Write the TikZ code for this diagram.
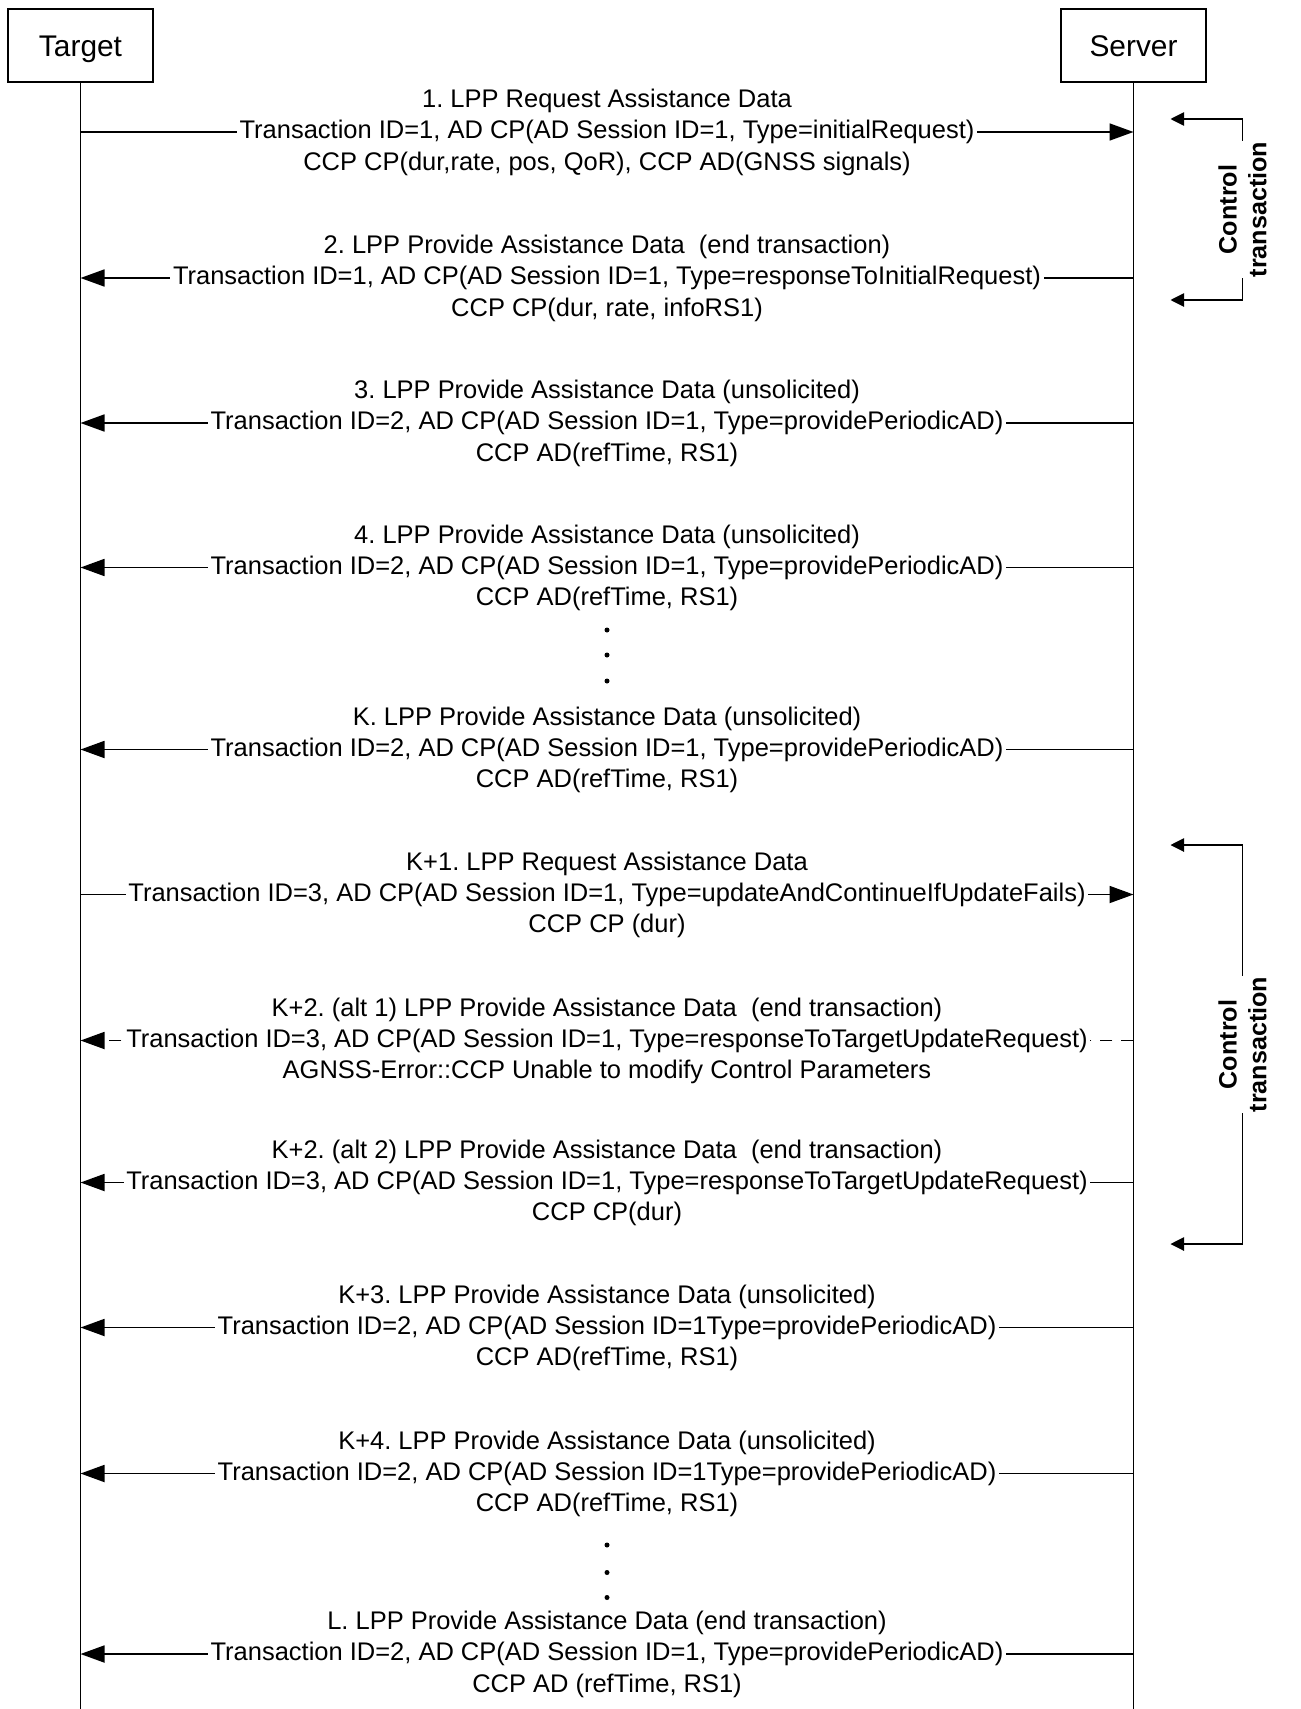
\documentclass[tikz,border=0pt]{standalone}
\usepackage{fontspec}
\setmainfont{Liberation Sans}
\frenchspacing
\usetikzlibrary{arrows.meta,positioning,calc}

\tikzset{
  actor/.style={draw, line width=0.9pt, minimum width=2.9cm, minimum height=1.46cm,
                text height=15.5pt, text depth=3.5pt, font=\fontsize{17}{20}\selectfont},
  life/.style={line width=1pt},
  msg/.style={line width=1pt, -{Triangle[length=0.48cm,width=0.34cm]}},
  mid/.style={fill=white, inner xsep=1.5pt, inner ysep=0pt, font=\fontsize{14.5}{17}\selectfont},
  upper/.style={anchor=base, yshift=0.62cm, inner sep=0pt, font=\fontsize{14.5}{17}\selectfont},
  lower/.style={anchor=base, yshift=-0.63cm, inner sep=0pt, font=\fontsize{14.5}{17}\selectfont},
  brk/.style={line width=0.6pt, {Triangle[length=0.27cm,width=0.27cm]}-{Triangle[length=0.27cm,width=0.27cm]}},
  ctl/.style={fill=white, rotate=90, align=center, inner sep=0.5pt,
              font=\fontsize{14.3}{17}\selectfont\bfseries},
}

\begin{document}
\begin{tikzpicture}
  \useasboundingbox (0,0) rectangle (26,-34.18);

  % lifelines
  \node[actor] (target) at (1.61,-0.91) {Target};
  \node[actor] (server) at (22.67,-0.91) {Server};
  \coordinate (bottom) at (0,-34.18);
  \coordinate (tEnd) at (target.south |- bottom);
  \coordinate (sEnd) at (server.south |- bottom);
  \draw[life] (target) -- (tEnd);
  \draw[life] (server) -- (sEnd);

  % message rows
  \foreach \n/\y in {1/2.64, 2/5.56, 3/8.46, 4/11.35, k/14.99, ka/17.89,
                     kb/20.81, kc/23.65, kd/26.55, ke/29.47, l/33.08} {
    \coordinate (t\n) at (1.61,-\y);
    \coordinate (s\n) at (22.67,-\y);
  }

  % 1
  \draw[msg] (t1) -- node[mid] (m1) {Transaction ID=1, AD CP(AD Session ID=1, Type=initialRequest)} (s1);
  \node[upper] at (m1.base) {1. LPP Request Assistance Data};
  \node[lower] at (m1.base) {CCP CP(dur,rate, pos, QoR), CCP AD(GNSS signals)};

  % 2
  \draw[msg] (s2) -- node[mid] (m2) {Transaction ID=1, AD CP(AD Session ID=1, Type=responseToInitialRequest)} (t2);
  \node[upper] at (m2.base) {2. LPP Provide Assistance Data\ \ (end transaction)};
  \node[lower] at (m2.base) {CCP CP(dur, rate, infoRS1)};

  % 3
  \draw[msg] (s3) -- node[mid] (m3) {Transaction ID=2, AD CP(AD Session ID=1, Type=providePeriodicAD)} (t3);
  \node[upper] at (m3.base) {3. LPP Provide Assistance Data (unsolicited)};
  \node[lower] at (m3.base) {CCP AD(refTime, RS1)};

  % 4
  \draw[msg] (s4) -- node[mid] (m4) {Transaction ID=2, AD CP(AD Session ID=1, Type=providePeriodicAD)} (t4);
  \node[upper] at (m4.base) {4. LPP Provide Assistance Data (unsolicited)};
  \node[lower] at (m4.base) {CCP AD(refTime, RS1)};

  \foreach \y in {12.60, 13.10, 13.62, 30.90, 31.45, 31.95}
    \fill (12.14,-\y) circle (0.05);

  % K
  \draw[msg] (sk) -- node[mid] (mk) {Transaction ID=2, AD CP(AD Session ID=1, Type=providePeriodicAD)} (tk);
  \node[upper] at (mk.base) {K. LPP Provide Assistance Data (unsolicited)};
  \node[lower] at (mk.base) {CCP AD(refTime, RS1)};

  % K+1
  \draw[msg] (tka) -- node[mid] (mka) {Transaction ID=3, AD CP(AD Session ID=1, Type=updateAndContinueIfUpdateFails)} (ska);
  \node[upper] at (mka.base) {K+1. LPP Request Assistance Data};
  \node[lower] at (mka.base) {CCP CP (dur)};

  % K+2 alt 1
  \draw[msg, dash pattern=on 7pt off 5pt] (skb) -- node[mid] (mkb) {Transaction ID=3, AD CP(AD Session ID=1, Type=responseToTargetUpdateRequest)} (tkb);
  \node[upper] at (mkb.base) {K+2. (alt 1) LPP Provide Assistance Data\ \ (end transaction)};
  \node[lower] at (mkb.base) {AGNSS-Error::CCP Unable to modify Control Parameters};

  % K+2 alt 2
  \draw[msg] (skc) -- node[mid] (mkc) {Transaction ID=3, AD CP(AD Session ID=1, Type=responseToTargetUpdateRequest)} (tkc);
  \node[upper] at (mkc.base) {K+2. (alt 2) LPP Provide Assistance Data\ \ (end transaction)};
  \node[lower] at (mkc.base) {CCP CP(dur)};

  % K+3
  \draw[msg] (skd) -- node[mid] (mkd) {Transaction ID=2, AD CP(AD Session ID=1Type=providePeriodicAD)} (tkd);
  \node[upper] at (mkd.base) {K+3. LPP Provide Assistance Data (unsolicited)};
  \node[lower] at (mkd.base) {CCP AD(refTime, RS1)};

  % K+4
  \draw[msg] (ske) -- node[mid] (mke) {Transaction ID=2, AD CP(AD Session ID=1Type=providePeriodicAD)} (tke);
  \node[upper] at (mke.base) {K+4. LPP Provide Assistance Data (unsolicited)};
  \node[lower] at (mke.base) {CCP AD(refTime, RS1)};

  % L
  \draw[msg] (sl) -- node[mid] (ml) {Transaction ID=2, AD CP(AD Session ID=1, Type=providePeriodicAD)} (tl);
  \node[upper] at (ml.base) {L. LPP Provide Assistance Data (end transaction)};
  \node[lower] at (ml.base) {CCP AD (refTime, RS1)};

  % control transaction brackets
  \coordinate (ca1) at (23.41,-2.38);  \coordinate (cv1) at (24.85,-2.38);
  \coordinate (cw1) at (24.85,-6.00);  \coordinate (cb1) at (23.41,-6.00);
  \draw[brk] (ca1) -- (cv1) -- (cw1) -- (cb1);
  \node[ctl] (ctl1) at ($(cv1)!0.5!(cw1)$) {Control\\transaction};

  \coordinate (ca2) at (23.41,-16.90); \coordinate (cv2) at (24.85,-16.90);
  \coordinate (cw2) at (24.85,-24.88); \coordinate (cb2) at (23.41,-24.88);
  \draw[brk] (ca2) -- (cv2) -- (cw2) -- (cb2);
  \node[ctl] (ctl2) at ($(cv2)!0.5!(cw2)$) {Control\\transaction};
\end{tikzpicture}
\end{document}
